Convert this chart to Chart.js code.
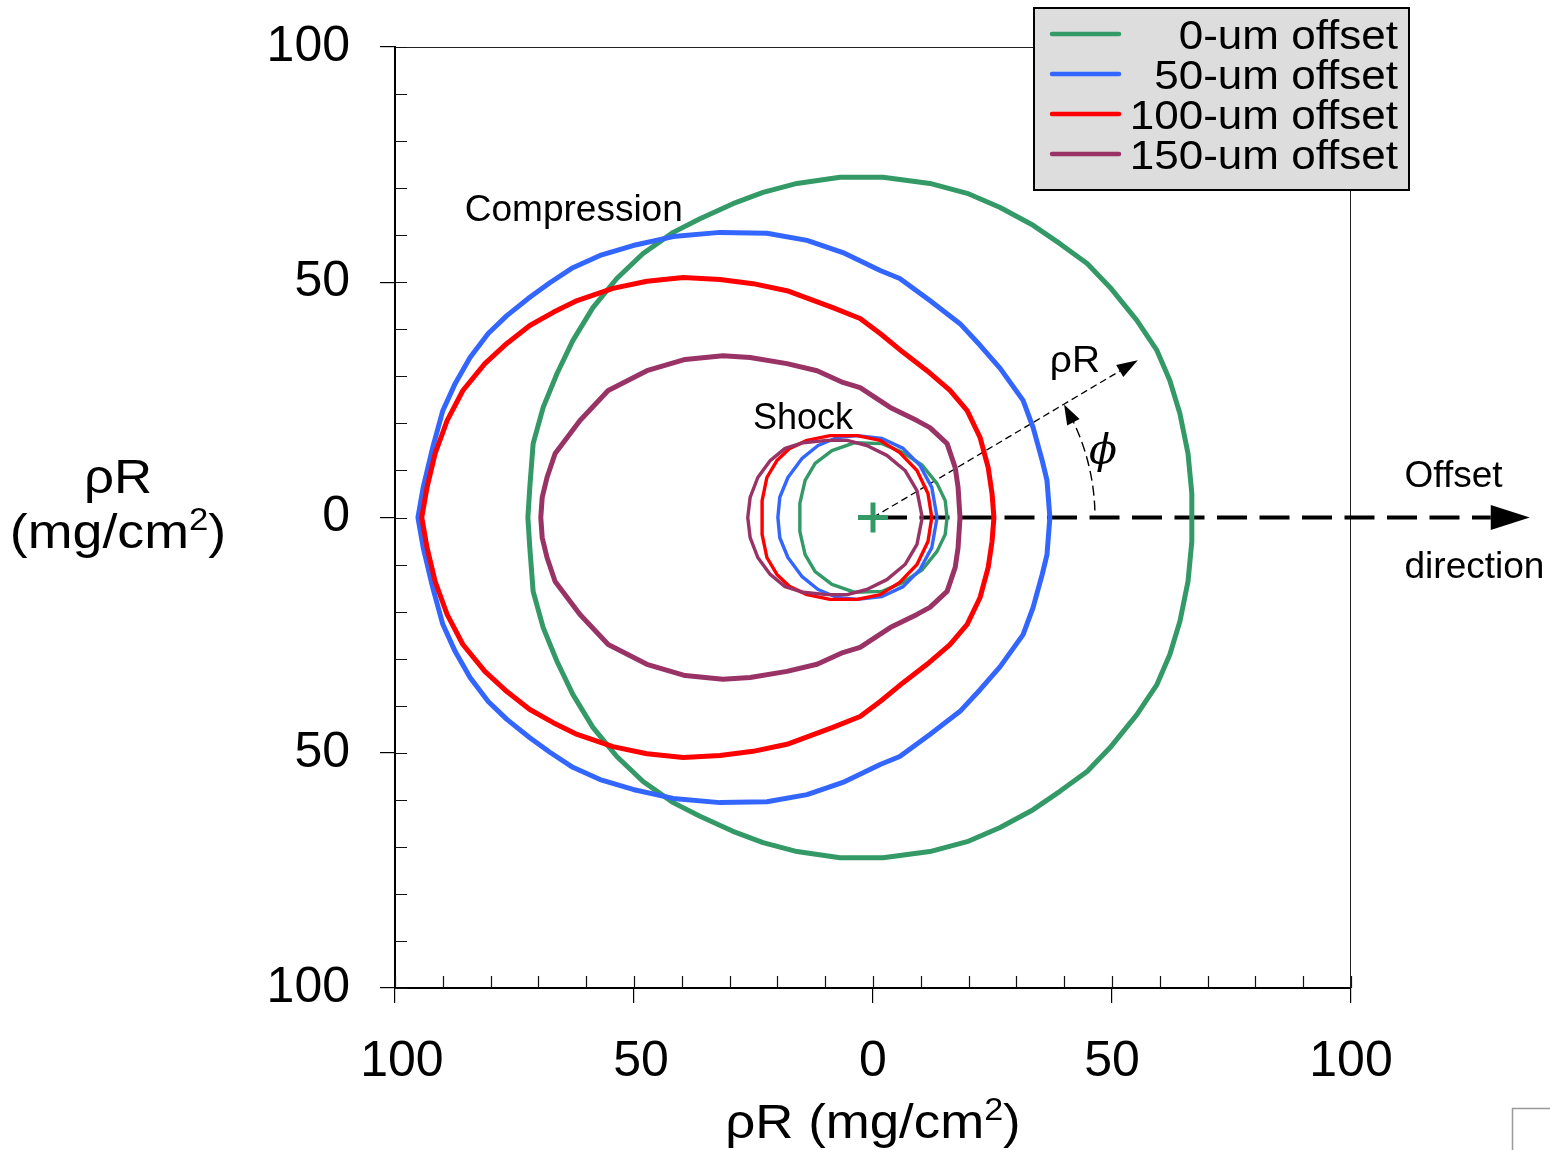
<!DOCTYPE html>
<html><head><meta charset="utf-8">
<script src="https://cdn.jsdelivr.net/npm/chart.js@4.4.1/dist/chart.umd.min.js"></script>
<style>html,body{margin:0;padding:0;background:#fff;}canvas{display:block;}</style>
</head><body>
<canvas id="c" width="1550" height="1150"></canvas>
<script>
// ---------- data ----------
const seriesLabels = ['0-um offset', '50-um offset', '100-um offset', '150-um offset'];
const seriesColors = ['#339966', '#3366FF', '#FF0000', '#993366'];
const axisMin = -100, axisMax = 100, tickStep = 10, majorStep = 50;

// 0-um offset, compression shell
const g0CompX = [66.7,66.7,65.9,64.2,62.1,59.4,55.2,49.6,44.8,39.1,33.5,26.6,19.7,11.9,2.1,-6.9,-15.9,-23.0,-29.3,-36.2,-41.8,-48.1,-53.6,-58.6,-62.8,-66.1,-69.0,-71.1,-71.8,-72.2,
  -71.8,-71.1,-69.0,-66.1,-62.8,-58.6,-53.6,-48.1,-41.8,-36.2,-29.3,-23.0,-15.9,-6.9,2.1,11.9,19.7,26.6,33.5,39.1,44.8,49.6,55.2,59.4,62.1,64.2,65.9,66.7,66.7];
const g0CompY = [0,5.1,13.6,22.1,29.1,35.5,41.9,48.9,54.0,58.2,62.1,65.9,68.9,71.0,72.3,72.3,71.0,69.1,66.7,63.5,60.6,56.1,50.8,44.6,37.6,30.6,23.4,15.7,6.4,0,
  -6.4,-15.7,-23.4,-30.6,-37.6,-44.6,-50.8,-56.1,-60.6,-63.5,-66.7,-69.1,-71.0,-72.3,-72.3,-71.0,-68.9,-65.9,-62.1,-58.2,-54.0,-48.9,-41.9,-35.5,-29.1,-22.1,-13.6,-5.1,0];
// 50-um offset, compression shell
const b50CompX = [37.0,36.4,35.4,33.5,31.4,26.6,22.4,18.2,11.9,5.6,1.5,-6.3,-13.8,-22.2,-32.0,-41.8,-50.2,-57.1,-62.8,-67.6,-71.8,-76.6,-80.5,-84.3,-87.4,-90.0,-92.1,-94.1,-95.2,
  -94.1,-92.1,-90.0,-87.4,-84.3,-80.5,-76.6,-71.8,-67.6,-62.8,-57.1,-50.2,-41.8,-32.0,-22.2,-13.8,-6.3,1.5,5.6,11.9,18.2,22.4,26.6,31.4,33.5,35.4,36.4,37.0];
const b50CompY = [0,7.9,12.1,19.1,24.9,31.7,36.6,41.2,46.1,50.8,52.5,56.3,58.9,60.4,60.6,59.7,57.8,55.7,53.1,49.9,46.8,42.9,39.1,34.0,28.5,22.7,14.9,6.4,0,
  -6.4,-14.9,-22.7,-28.5,-34.0,-39.1,-42.9,-46.8,-49.9,-53.1,-55.7,-57.8,-59.7,-60.6,-60.4,-58.9,-56.3,-52.5,-50.8,-46.1,-41.2,-36.6,-31.7,-24.9,-19.1,-12.1,-7.9,0];
// 100-um offset, compression shell
const r100CompX = [25.3,24.9,24.1,22.4,19.7,16.1,11.3,6.3,1.5,-2.7,-8.4,-18.0,-25.1,-32.0,-39.7,-47.3,-54.4,-61.9,-66.9,-71.8,-76.6,-81.2,-85.8,-89.1,-91.6,-93.3,-94.4,
  -93.3,-91.6,-89.1,-85.8,-81.2,-76.6,-71.8,-66.9,-61.9,-54.4,-47.3,-39.7,-32.0,-25.1,-18.0,-8.4,-2.7,1.5,6.3,11.3,16.1,19.7,22.4,24.1,24.9,25.3];
const r100CompY = [0,5.1,10.6,17.0,22.7,27.0,31.2,35.1,39.1,42.3,44.6,48.2,49.7,50.6,51.0,50.2,48.7,46.1,43.6,40.8,37.0,32.7,27.0,20.6,13.6,6.4,0,
  -6.4,-13.6,-20.6,-27.0,-32.7,-37.0,-40.8,-43.6,-46.1,-48.7,-50.2,-51.0,-50.6,-49.7,-48.2,-44.6,-42.3,-39.1,-35.1,-31.2,-27.0,-22.7,-17.0,-10.6,-5.1,0];
// 150-um offset, compression shell
const p150CompX = [18.2,17.8,17.2,15.5,11.9,9.2,3.6,-2.7,-6.3,-11.7,-18.0,-25.7,-31.4,-39.3,-47.3,-55.4,-61.3,-66.5,-68.2,-69.2,-69.5,
  -69.2,-68.2,-66.5,-61.3,-55.4,-47.3,-39.3,-31.4,-25.7,-18.0,-11.7,-6.3,-2.7,3.6,9.2,11.9,15.5,17.2,17.8,18.2];
const p150CompY = [0,6.4,10.6,15.7,19.1,20.6,23.4,27.6,28.7,31.2,32.7,34.0,34.4,33.6,31.2,27.0,20.6,13.6,8.5,4.3,0,
  -4.3,-8.5,-13.6,-20.6,-27.0,-31.2,-33.6,-34.4,-34.0,-32.7,-31.2,-28.7,-27.6,-23.4,-20.6,-19.1,-15.7,-10.6,-6.4,0];

// shock shells
const g0ShockX = [15.5,15.1,13.4,10.3,6.3,1.9,-3.8,-8.6,-12.1,-14.2,-15.3,-15.3,-15.3,-14.2,-12.1,-8.6,-3.8,1.9,6.3,10.3,13.4,15.1,15.5];
const g0ShockY = [0,3.6,7.2,11.1,13.8,15.7,15.9,14.2,11.5,7.9,3.0,0,-3.0,-7.9,-11.5,-14.2,-15.9,-15.7,-13.8,-11.1,-7.2,-3.6,0];
const b50ShockX = [13.4,12.3,9.8,6.3,1.9,-3.3,-7.5,-11.5,-14.9,-17.8,-19.5,-19.9,-19.5,-17.8,-14.9,-11.5,-7.5,-3.3,1.9,6.3,9.8,12.3,13.4];
const b50ShockY = [0,6.4,11.1,14.7,16.8,17.4,17.0,15.3,12.5,8.5,4.3,0,-4.3,-8.5,-12.5,-15.3,-17.0,-17.4,-16.8,-14.7,-11.1,-6.4,0];
const r100ShockX = [12.3,11.5,9.2,5.6,1.5,-3.3,-9.0,-13.8,-17.4,-20.1,-22.2,-23.2,-23.2,-23.2,-22.2,-20.1,-17.4,-13.8,-9.0,-3.3,1.5,5.6,9.2,11.5,12.3];
const r100ShockY = [0,5.1,10.0,13.8,16.4,17.4,17.4,16.4,14.7,12.1,8.5,3.6,0,-3.6,-8.5,-12.1,-14.7,-16.4,-17.4,-17.4,-16.4,-13.8,-10.0,-5.1,0];
const p150ShockX = [10.3,9.2,6.7,2.9,-1.3,-5.4,-9.6,-14.6,-18.4,-21.5,-24.1,-25.7,-26.2,-25.7,-24.1,-21.5,-18.4,-14.6,-9.6,-5.4,-1.3,2.9,6.7,9.2,10.3];
const p150ShockY = [0,5.7,10.0,13.2,15.3,16.4,16.4,15.9,14.7,12.1,8.5,4.3,0,-4.3,-8.5,-12.1,-14.7,-15.9,-16.4,-16.4,-15.3,-13.2,-10.0,-5.7,0];

// target centre marker
const centreX = [0];
const centreY = [0];

// ---------- build ----------
const FONT = '"Liberation Sans", Arial, sans-serif';
function pts(xs, ys) { return xs.map((v, i) => ({ x: v, y: ys[i] })); }
const compX = [g0CompX, b50CompX, r100CompX, p150CompX];
const compY = [g0CompY, b50CompY, r100CompY, p150CompY];
const shockX = [g0ShockX, b50ShockX, r100ShockX, p150ShockX];
const shockY = [g0ShockY, b50ShockY, r100ShockY, p150ShockY];

const datasets = [];
seriesLabels.forEach((lab, i) => {
  datasets.push({ label: lab, data: pts(compX[i], compY[i]), showLine: true, borderColor: seriesColors[i],
    backgroundColor: seriesColors[i], borderWidth: 5, pointRadius: 0, fill: false, tension: 0,
    borderJoinStyle: 'round', borderCapStyle: 'round', order: 10 - i, inLegend: true });
  datasets.push({ label: lab + ' (shock)', data: pts(shockX[i], shockY[i]), showLine: true, borderColor: seriesColors[i],
    backgroundColor: seriesColors[i], borderWidth: 3.4, pointRadius: 0, fill: false, tension: 0,
    borderJoinStyle: 'round', order: 10 - i, inLegend: false });
});
datasets.push({ label: 'centre', data: pts(centreX, centreY), showLine: false, pointStyle: 'cross',
  pointRadius: 15, borderColor: seriesColors[0], borderWidth: 5, order: 0, inLegend: false });

// text helper: sx = horizontal stretch
function stxt(ctx, s, x, y, font, align, sx) {
  sx = sx || 1;
  ctx.save();
  ctx.font = font; ctx.textBaseline = 'alphabetic'; ctx.fillStyle = '#000';
  const w = ctx.measureText(s).width * sx;
  let left = x;
  if (align === 'right') left = x - w; else if (align === 'center') left = x - w / 2;
  ctx.translate(left, y); ctx.scale(sx, 1);
  ctx.textAlign = 'left'; ctx.fillText(s, 0, 0);
  ctx.restore();
  return w;
}
function arrowHead(ctx, tx, ty, ang, len, hw) {
  ctx.save(); ctx.translate(tx, ty); ctx.rotate(ang);
  ctx.beginPath(); ctx.moveTo(0, 0); ctx.lineTo(-len, -hw); ctx.lineTo(-len, hw); ctx.closePath();
  ctx.fillStyle = '#000'; ctx.fill(); ctx.restore();
}

const decor = {
  id: 'decor',
  beforeDatasetsDraw(chart) {
    const { ctx, chartArea: a, scales: { x, y } } = chart;
    const P = (xv, yv) => [x.getPixelForValue(xv), y.getPixelForValue(yv)];
    ctx.save();
    // thin top / right frame
    ctx.strokeStyle = '#222'; ctx.lineWidth = 1;
    ctx.beginPath();
    ctx.moveTo(a.left, a.top + 0.5); ctx.lineTo(a.right, a.top + 0.5);
    ctx.moveTo(a.right - 0.5, a.top); ctx.lineTo(a.right - 0.5, a.bottom);
    ctx.stroke();
    // inward minor ticks
    ctx.strokeStyle = '#111'; ctx.lineWidth = 1.2;
    ctx.beginPath();
    x.ticks.forEach(t => { const px = Math.round(x.getPixelForValue(t.value)) + 0.5; ctx.moveTo(px, a.bottom); ctx.lineTo(px, a.bottom - 12); });
    y.ticks.forEach(t => { const py = Math.round(y.getPixelForValue(t.value)) + 0.5; ctx.moveTo(a.left, py); ctx.lineTo(a.left + 12, py); });
    ctx.stroke();

    const [ox, oy] = P(0, 0);
    // offset-direction arrow (thick dashed)
    const [tipX] = P(137.4, 0);
    ctx.strokeStyle = '#000'; ctx.lineWidth = 4; ctx.setLineDash([30, 12.5]);
    ctx.beginPath(); ctx.moveTo(ox + 4, oy); ctx.lineTo(tipX - 39, oy); ctx.stroke();
    ctx.setLineDash([]);
    arrowHead(ctx, tipX, oy, 0, 39, 12.5);
    // rhoR arrow (thin dashed)
    const [rx, ry] = P(55.4, 33.4);
    const ang = Math.atan2(ry - oy, rx - ox);
    ctx.lineWidth = 1.3; ctx.setLineDash([7, 4]);
    ctx.beginPath(); ctx.moveTo(ox, oy); ctx.lineTo(rx - 18 * Math.cos(ang), ry - 18 * Math.sin(ang)); ctx.stroke();
    ctx.setLineDash([]);
    arrowHead(ctx, rx, ry, ang, 21, 7);
    // phi arc
    const R = 222;
    const a0 = -1.8 * Math.PI / 180, a1 = -30.6 * Math.PI / 180;
    ctx.setLineDash([10, 5]); ctx.lineWidth = 1.4;
    ctx.beginPath(); ctx.arc(ox, oy, R, a0, a1 + 0.09, true); ctx.stroke();
    ctx.setLineDash([]);
    const hx = ox + R * Math.cos(a1), hy = oy + R * Math.sin(a1);
    arrowHead(ctx, hx, hy, a1 - Math.PI / 2 + 0.05, 20, 7);

    // annotation texts
    let p;
    p = P(-85.4, 63.1); stxt(ctx, 'Compression', p[0], p[1], '37px ' + FONT);
    p = P(-25.1, 18.9); stxt(ctx, 'Shock', p[0], p[1], '36px ' + FONT);
    p = P(37.0, 31.0); stxt(ctx, 'ρR', p[0], p[1], '37px ' + FONT, 'left', 1.05);
    p = P(45.2, 11.5); stxt(ctx, 'ϕ', p[0], p[1], 'italic 41px "DejaVu Serif", serif');
    p = P(111.2, 6.4); stxt(ctx, 'Offset', p[0], p[1], '37px ' + FONT);
    p = P(111.2, -12.8); stxt(ctx, 'direction', p[0], p[1], '37px ' + FONT);
    ctx.restore();
  },
  afterDraw(chart) {
    const { ctx } = chart;
    ctx.save();
    // legend
    ctx.fillStyle = '#dddddd'; ctx.fillRect(1034, 8, 375, 182);
    ctx.strokeStyle = '#000'; ctx.lineWidth = 2; ctx.strokeRect(1034, 8, 375, 182);
    const legendItems = chart.data.datasets.filter(d => d.inLegend);
    legendItems.forEach((d, i) => {
      const yy = 34 + 40 * i;
      ctx.strokeStyle = d.borderColor; ctx.lineWidth = 4.5; ctx.lineCap = 'round';
      ctx.beginPath(); ctx.moveTo(1052, yy); ctx.lineTo(1119, yy); ctx.stroke();
      stxt(ctx, d.label, 1398, yy + 15, '40px ' + FONT, 'right', 1.1);
    });
    // y axis title
    const cx = 118;
    stxt(ctx, 'ρR', cx, 493, '48px ' + FONT, 'center', 1.1);
    drawUnits(ctx, cx, 548, 48, '', 1.12);
    // x axis title
    drawUnits(ctx, 873, 1138, 48, 'ρR ', 1.1);
    // corner artefact (window widget)
    ctx.strokeStyle = '#999'; ctx.lineWidth = 1.5; ctx.strokeRect(1512.5, 1108.5, 60, 60);
    ctx.restore();
  }
};
function drawUnits(ctx, cx, base, size, prefix, sx) {
  const f = size + 'px ' + FONT, fs = Math.round(size * 0.64) + 'px ' + FONT;
  const a = (prefix || '') + '(mg/cm', sup = '2', b = ')';
  ctx.font = f; const wa = ctx.measureText(a).width * sx, wb = ctx.measureText(b).width * sx;
  ctx.font = fs; const ws = ctx.measureText(sup).width * sx;
  let x0 = cx - (wa + ws + wb) / 2;
  stxt(ctx, a, x0, base, f, 'left', sx); x0 += wa;
  stxt(ctx, sup, x0, base - size * 0.38, fs, 'left', sx); x0 += ws;
  stxt(ctx, b, x0, base, f, 'left', sx);
}

new Chart(document.getElementById('c'), {
  type: 'scatter',
  data: { datasets },
  plugins: [decor],
  options: {
    responsive: false, animation: false, devicePixelRatio: 1, events: [],
    layout: { padding: { top: 47, right: 199, left: 0, bottom: 0 } },
    plugins: { legend: { display: false }, tooltip: { enabled: false } },
    scales: {
      x: {
        type: 'linear', min: axisMin, max: axisMax,
        afterFit: s => { s.height = 162; s.paddingLeft = 0; s.paddingRight = 0; },
        border: { display: true, color: '#000', width: 2 },
        grid: { drawOnChartArea: false, drawTicks: true, tickLength: 15, lineWidth: 1.2,
          color: c => (c.tick && c.tick.value % majorStep === 0) ? '#000' : 'rgba(0,0,0,0)' },
        ticks: { stepSize: tickStep, autoSkip: false, maxRotation: 0, padding: 29, color: '#000',
          font: { size: 50, family: FONT },
          callback: v => v % majorStep === 0 ? (v < 0 ? ' ' : '') + Math.abs(v) : '' }
      },
      y: {
        type: 'linear', min: axisMin, max: axisMax,
        afterFit: s => { s.width = 395; s.paddingTop = 0; s.paddingBottom = 0; },
        border: { display: true, color: '#000', width: 2 },
        grid: { drawOnChartArea: false, drawTicks: true, tickLength: 15, lineWidth: 1.2,
          color: c => (c.tick && c.tick.value % majorStep === 0) ? '#000' : 'rgba(0,0,0,0)' },
        ticks: { stepSize: tickStep, autoSkip: false, padding: 30, color: '#000',
          font: { size: 50, family: FONT },
          callback: v => v % majorStep === 0 ? String(Math.abs(v)) : '' }
      }
    }
  }
});
</script>
</body></html>
